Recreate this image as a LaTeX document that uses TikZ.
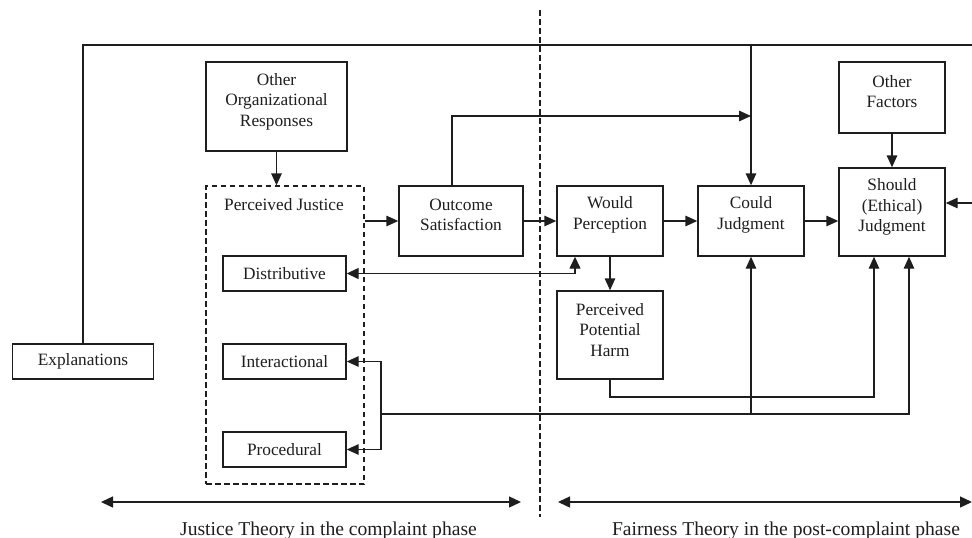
\documentclass[tikz,border=0pt]{standalone}
\usepackage{fontspec}
\setmainfont{Liberation Serif}
\usetikzlibrary{arrows.meta}
\definecolor{ink}{HTML}{1E1E1E}
\begin{document}
\begin{tikzpicture}[x=1pt,y=-1pt,
  box/.style={draw=ink, line width=1.4pt, inner sep=0pt, align=center, text=ink, font=\fontsize{17.3}{20.5}\selectfont},
  txt/.style={inner sep=0pt, align=center, text=ink, font=\fontsize{17.3}{20.5}\selectfont},
  btxt/.style={inner sep=0pt, text=ink, font=\fontsize{19.6}{22}\selectfont},
  ln/.style={line width=1.4pt, draw=ink},
  arr/.style={ln, -{Triangle[length=12pt,width=10.5pt]}},
  darr/.style={ln, {Triangle[length=12pt,width=11pt]}-{Triangle[length=12pt,width=11pt]}},
  dsh/.style={line width=1.3pt, draw=ink, dash pattern=on 5.5pt off 3.5pt}
]
\useasboundingbox (0,0) rectangle (972,538);

% boxes
\node[box, minimum width=141pt, minimum height=35pt] (expl) at (83,361.5) {Explanations};
\node[box, minimum width=141pt, minimum height=89pt] (oor) at (276.5,106.5) {};
\node[txt] (oort) at (276.5,101.5) {Other\\Organizational\\Responses};
\node[dsh, minimum width=158pt, minimum height=298pt, inner sep=0pt] (pj) at (285,335) {};
\node[txt] (pjt) at (284,205) {Perceived Justice};
\node[box, minimum width=123pt, minimum height=35pt] (dist) at (284.5,273.5) {Distributive};
\node[box, minimum width=123pt, minimum height=35pt] (inter) at (284.5,361.5) {Interactional};
\node[box, minimum width=123pt, minimum height=35pt] (proc) at (284.5,449.5) {Procedural};
\node[box, minimum width=124pt, minimum height=70pt] (outc) at (461,221) {};
\node[txt] (outct) at (461,215) {Outcome\\Satisfaction};
\node[box, minimum width=106pt, minimum height=70pt] (would) at (610,221) {};
\node[txt] (wouldt) at (610,215) {Would\\Perception};
\node[box, minimum width=106pt, minimum height=70pt] (could) at (751,221) {};
\node[txt] (couldt) at (751,215) {Could\\Judgment};
\node[box, minimum width=106pt, minimum height=88pt] (should) at (892,212) {};
\node[txt] (shouldt) at (892,207) {Should\\(Ethical)\\Judgment};
\node[box, minimum width=106pt, minimum height=71pt] (ofac) at (892,97.5) {};
\node[txt] (ofact) at (892,91.5) {Other\\Factors};
\node[box, minimum width=106pt, minimum height=88pt] (pph) at (610,335) {};
\node[txt] (ppht) at (610,330) {Perceived\\Potential\\Harm};

% coordinates
\coordinate (tl) at (83,45);
\coordinate (tr) at (972,45);
\coordinate (rin) at (972,203);
\coordinate (osTop) at (452,116);
\coordinate (dj) at (575,273.5);
\coordinate (ph) at (874,397);
\coordinate (bk) at (381,414);
\coordinate (bs) at (909,414);
\coordinate (dv1) at (540,10);
\coordinate (dv2) at (540,517);
\coordinate (jl) at (101,502);
\coordinate (jr) at (521,502);
\coordinate (fl) at (558,502);
\coordinate (fr) at (972,502);

% connectors
\draw[ln] (expl.north) -- (tl) -- (tr);
\draw[arr] (could.north |- tl) -- (could.north);
\draw[arr] (rin) -- (rin -| should.east);
\draw[arr] (oor.south) -- (oor.south |- pj.north);
\draw[arr] (pj.east |- outc.west) -- (outc.west);
\draw[arr] (outc.east) -- (would.west);
\draw[arr] (would.east) -- (could.west);
\draw[arr] (could.east) -- (could.east -| should.west);
\draw[arr] (ofac.south) -- (should.north);
\draw[arr] (outc.north -| osTop) -- (osTop) -- (osTop -| could.north);
\draw[darr] (dist.east) -- (dj) -- (dj |- would.south);
\draw[arr] (would.south) -- (pph.north);
\draw[arr] (pph.south) -- (pph.south |- ph) -- (ph) -- (ph |- should.south);
\draw[arr] (bk) -- (bk |- inter.east) -- (inter.east);
\draw[arr] (bk) -- (bk |- proc.east) -- (proc.east);
\draw[arr] (bk) -- (bs) -- (bs |- should.south);
\draw[arr] (could.south |- bk) -- (could.south);

% divider and phases
\draw[dsh] (dv1) -- (dv2);
\draw[darr] (jl) -- (jr);
\draw[darr] (fl) -- (fr);
\node[btxt, anchor=base] (jt) at (328.5,535) {Justice Theory in the complaint phase};
\node[btxt, anchor=base] (ft) at (786,535) {Fairness Theory in the post-complaint phase};
\end{tikzpicture}
\end{document}
